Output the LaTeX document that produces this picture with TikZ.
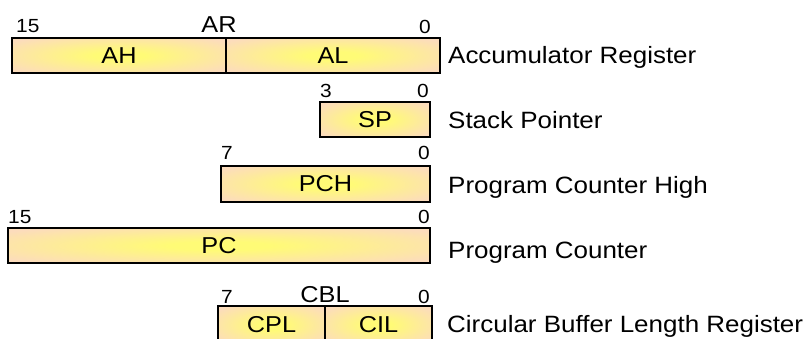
\documentclass[tikz,border=0pt]{standalone}
\usepackage{fontspec}
\setmainfont{Liberation Sans}[FakeStretch=1.1]
\definecolor{peach}{RGB}{252,220,188}
\definecolor{hiyel}{RGB}{255,251,118}
\pgfdeclareradialshading{regshade}{\pgfpoint{0bp}{0bp}}{color(0bp)=(hiyel); color(6bp)=(hiyel); color(32bp)=(peach); color(50bp)=(peach)}
\tikzset{
  reg/.style={draw=black, line width=1.6pt, inner sep=0pt, outer sep=0pt,
    shading=regshade, anchor=north west, font=\fontsize{23}{25}\selectfont},
  bitnum/.style={font=\fontsize{19}{21}\selectfont, inner sep=0pt},
  regname/.style={font=\fontsize{23}{25}\selectfont, inner sep=0pt, anchor=base},
  desc/.style={font=\fontsize{23.6}{26}\selectfont, inner sep=0pt, anchor=base west},
}
\begin{document}
\begin{tikzpicture}[x=1pt,y=-1pt]
\useasboundingbox (0,0) rectangle (809,338);
% Accumulator register
\node[reg, minimum width=214pt, minimum height=35pt] (AH) at (12,38) {AH};
\node[reg, minimum width=214pt, minimum height=35pt] (AL) at (226,38) {AL};
\node[bitnum, anchor=base west] (ar15) at (16,32) {15};
\node[regname] (ARn) at (219,32) {AR};
\node[bitnum, anchor=base east] (ar0) at (431,33) {0};
\node[desc] (dAR) at (448,63) {Accumulator Register};
% Stack pointer
\node[reg, minimum width=110pt, minimum height=35pt] (SP) at (320,102) {SP};
\node[bitnum, anchor=base west] (sp3) at (320,97) {3};
\node[bitnum, anchor=base east] (sp0) at (429,97) {0};
\node[desc] (dSP) at (448,128) {Stack Pointer};
% Program counter high
\node[reg, minimum width=209pt, minimum height=36pt] (PCH) at (221,166) {PCH};
\node[bitnum, anchor=base west] (pch7) at (221,159) {7};
\node[bitnum, anchor=base east] (pch0) at (430,159) {0};
\node[desc] (dPCH) at (448,193) {Program Counter High};
% Program counter
\node[reg, minimum width=422pt, minimum height=35pt] (PC) at (8,228) {PC};
\node[bitnum, anchor=base west] (pc15) at (8,223) {15};
\node[bitnum, anchor=base east] (pc0) at (430,223) {0};
\node[desc] (dPC) at (448,258) {Program Counter};
% Circular buffer length
\node[reg, minimum width=107pt, minimum height=38pt] (CPL) at (218,306) {CPL};
\node[reg, minimum width=107pt, minimum height=38pt] (CIL) at (325,306) {CIL};
\node[bitnum, anchor=base west] (cbl7) at (221,303) {7};
\node[regname] (CBLn) at (325,302) {CBL};
\node[bitnum, anchor=base east] (cbl0) at (430,303) {0};
\node[desc] (dCBL) at (447,332) {Circular Buffer Length Register};
\end{tikzpicture}
\end{document}
